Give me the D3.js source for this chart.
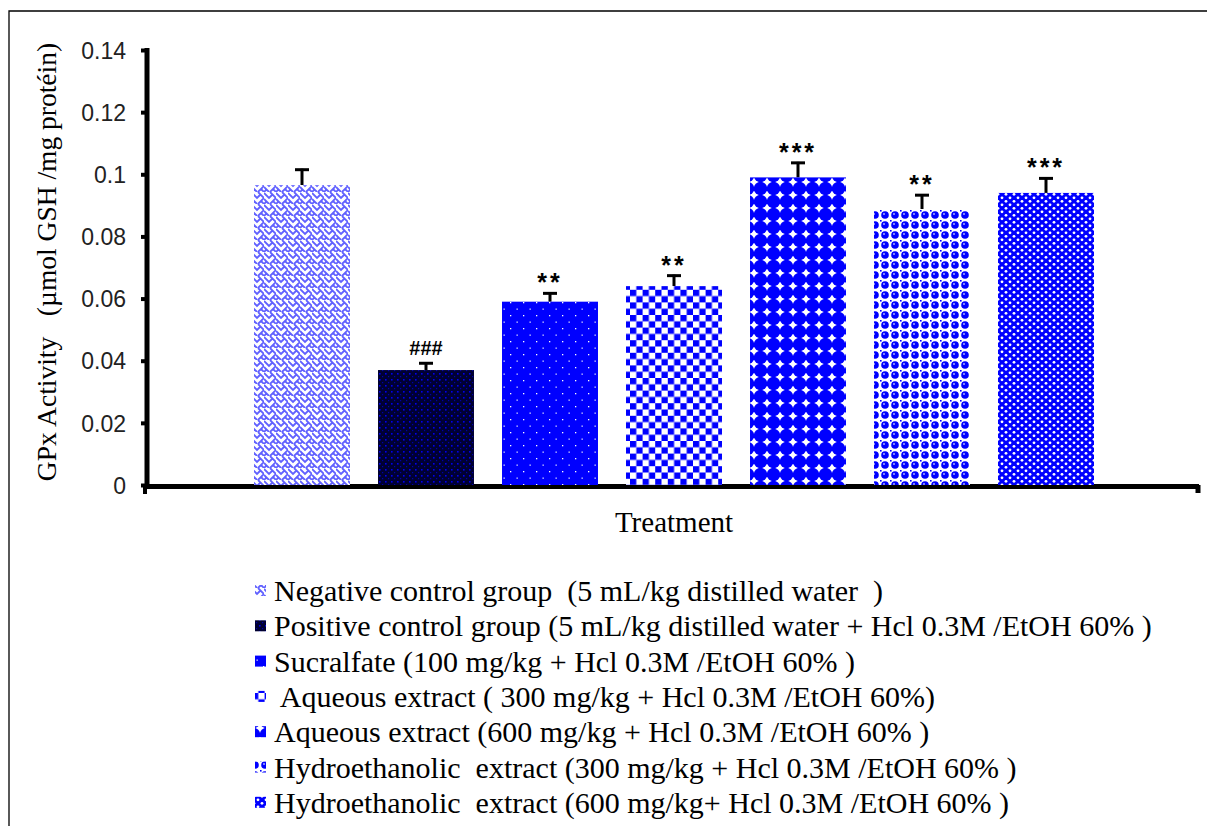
<!DOCTYPE html>
<html>
<head>
<meta charset="utf-8">
<script src="https://cdn.jsdelivr.net/npm/d3@7"></script>
<style>
  html, body { margin: 0; padding: 0; background: #fff; }
  svg { display: block; }
</style>
</head>
<body>
<svg id="chart" width="1207" height="826"></svg>
<script>
// ---- data ----
const categories = ["neg", "pos", "suc", "aq300", "aq600", "hy300", "hy600"];
const values = [0.0965, 0.0370, 0.0590, 0.0640, 0.0990, 0.0888, 0.0940];
const errors = [0.0053, 0.0025, 0.0030, 0.0037, 0.0050, 0.0048, 0.0050];
const significance = ["", "###", "**", "**", "***", "**", "***"];
const legendLabels = [
  "Negative control group  (5 mL/kg distilled water  )",
  "Positive control group (5 mL/kg distilled water + Hcl 0.3M /EtOH 60% )",
  "Sucralfate (100 mg/kg + Hcl 0.3M /EtOH 60% )",
  " Aqueous extract ( 300 mg/kg + Hcl 0.3M /EtOH 60%)",
  "Aqueous extract (600 mg/kg + Hcl 0.3M /EtOH 60% )",
  "Hydroethanolic  extract (300 mg/kg + Hcl 0.3M /EtOH 60% )",
  "Hydroethanolic  extract (600 mg/kg+ Hcl 0.3M /EtOH 60% )"
];
const yTicks = [0, 0.02, 0.04, 0.06, 0.08, 0.1, 0.12, 0.14];
const yTickLabels = ["0", "0.02", "0.04", "0.06", "0.08", "0.1", "0.12", "0.14"];
const yTitle = "GPx Activity   (µmol GSH /mg protéin)";
const xTitle = "Treatment";

const svg = d3.select("#chart");
const defs = svg.append("defs");
const BLUE = "#0000ff";
const SERIF = "'Liberation Serif', 'Times New Roman', serif";
const SANS = "'Liberation Sans', Arial, sans-serif";

// ---- patterns ----
function pat(id, w, h) {
  return defs.append("pattern").attr("id", id).attr("patternUnits", "userSpaceOnUse")
    .attr("width", w).attr("height", h);
}
// 1 negative: light weave
(function(){
  const p = pat("p0", 12, 12);
  p.append("rect").attr("width", 12).attr("height", 12).attr("fill", "#fff");
  p.append("path").attr("d", "M0,1 L5,6 L9,2 M6,0 L12,6 M0,7 L5,12 M6,12 L12,6 M9,9 L12,12 M2,10 L0,12")
    .attr("stroke", "#3a3aff").attr("stroke-width", 1.8).attr("fill", "none").attr("opacity", 0.8);
})();
// 2 positive: dark navy with blue dots
(function(){
  const p = pat("p1", 6, 6);
  p.append("rect").attr("width", 6).attr("height", 6).attr("fill", "#000033");
  p.append("rect").attr("x", 1).attr("y", 1).attr("width", 1.6).attr("height", 1.6).attr("fill", "#0000ee");
  p.append("rect").attr("x", 4).attr("y", 4).attr("width", 1.2).attr("height", 1.2).attr("fill", "#0000aa");
})();
// 3 sucralfate: blue with sparse white dots
(function(){
  const p = pat("p2", 13, 13);
  p.append("rect").attr("width", 13).attr("height", 13).attr("fill", BLUE);
  p.append("rect").attr("x", 3).attr("y", 3).attr("width", 1.3).attr("height", 1.3).attr("fill", "#fff");
  p.append("rect").attr("x", 9.5).attr("y", 9.5).attr("width", 1.3).attr("height", 1.3).attr("fill", "#ddf");
})();
// 4 aqueous 300: checkerboard
(function(){
  const p = pat("p3", 12.6, 12.6);
  p.append("rect").attr("width", 12.6).attr("height", 12.6).attr("fill", "#fff");
  p.append("rect").attr("x", 0).attr("y", 0).attr("width", 6.3).attr("height", 6.3).attr("fill", BLUE);
  p.append("rect").attr("x", 6.3).attr("y", 6.3).attr("width", 6.3).attr("height", 6.3).attr("fill", BLUE);
})();
// 5 aqueous 600: blue circles, white star gaps
(function(){
  const p = pat("p4", 13, 13);
  p.append("rect").attr("width", 13).attr("height", 13).attr("fill", "#fff");
  p.append("circle").attr("cx", 6.5).attr("cy", 6.5).attr("r", 6.7).attr("fill", BLUE);
})();
// 6 hydro 300: blue balls with white gaps
(function(){
  const p = pat("p5", 10, 10);
  p.append("rect").attr("width", 10).attr("height", 10).attr("fill", "#fff");
  p.append("circle").attr("cx", 5).attr("cy", 5).attr("r", 3.8).attr("fill", BLUE);
  p.append("circle").attr("cx", 4).attr("cy", 4).attr("r", 1.0).attr("fill", "#aaf");
  p.append("rect").attr("x", 0).attr("y", 0).attr("width", 1.6).attr("height", 1.6).attr("fill", BLUE);
})();
// 7 hydro 600: dense blue with white dots hex
(function(){
  const p = pat("p6", 8, 7);
  p.append("rect").attr("width", 8).attr("height", 7).attr("fill", BLUE);
  p.append("circle").attr("cx", 2).attr("cy", 1.8).attr("r", 1.4).attr("fill", "#fff");
  p.append("circle").attr("cx", 6).attr("cy", 5.3).attr("r", 1.4).attr("fill", "#fff");
})();

// ---- frame ----
svg.append("path").attr("d", "M9,830 L9,11 L1210,11").attr("fill", "none").attr("stroke", "#000").attr("stroke-width", 1.3);

// ---- scales ----
const y = d3.scaleLinear().domain([0, 0.14]).range([485, 50]);
const x = d3.scaleBand().domain(categories).range([240, 1108]).paddingInner(0.226).paddingOuter(0.113);

// ---- axes ----
const axisX = 147;
const yAxis = d3.axisLeft(y).tickValues(yTicks).tickSize(6)
  .tickFormat((d, i) => yTickLabels[i]);
const gy = svg.append("g").attr("transform", `translate(${axisX},0)`).call(yAxis);
gy.select(".domain").remove();
gy.selectAll(".tick line").attr("stroke", "#000").attr("stroke-width", 4);
gy.selectAll(".tick text").attr("x", -21).attr("dy", "0.36em").attr("font-family", SANS)
  .attr("font-size", 23).attr("fill", "#222");
svg.append("line").attr("x1", axisX).attr("x2", axisX).attr("y1", y(0.14) - 2).attr("y2", y(0) + 2)
  .attr("stroke", "#000").attr("stroke-width", 5);

// x axis
svg.append("line").attr("x1", axisX - 2).attr("x2", 1199).attr("y1", y(0) + 1.5).attr("y2", y(0) + 1.5)
  .attr("stroke", "#000").attr("stroke-width", 5);
svg.append("line").attr("x1", 1198).attr("x2", 1198).attr("y1", y(0)).attr("y2", y(0) + 8)
  .attr("stroke", "#000").attr("stroke-width", 5);
svg.append("line").attr("x1", axisX - 2).attr("x2", axisX - 2).attr("y1", y(0)).attr("y2", y(0) + 9)
  .attr("stroke", "#000").attr("stroke-width", 4);

// ---- bars ----
const g = svg.append("g");
categories.forEach((c, i) => {
  const x0 = x(c), bw = x.bandwidth(), cx = x0 + bw / 2;
  const yt = y(values[i] + errors[i]);
  g.append("line").attr("x1", cx).attr("x2", cx).attr("y1", y(values[i])).attr("y2", yt)
    .attr("stroke", "#000").attr("stroke-width", 3);
  g.append("line").attr("x1", cx - 7).attr("x2", cx + 7).attr("y1", yt + 1).attr("y2", yt + 1)
    .attr("stroke", "#000").attr("stroke-width", 3);
  g.append("rect").attr("x", x0).attr("y", y(values[i])).attr("width", bw)
    .attr("height", y(0) - y(values[i])).attr("fill", `url(#p${i})`);
  if (significance[i]) {
    const isHash = significance[i][0] === "#";
    g.append("text").attr("x", cx).attr("y", yt - (isHash ? 7 : 1)).attr("text-anchor", "middle")
      .attr("font-family", SANS)
      .attr("font-size", isHash ? 20 : 25).attr("font-weight", "bold")
      .attr("letter-spacing", isHash ? 0 : 3)
      .text(significance[i]);
  }
});

// ---- titles ----
svg.append("text").attr("transform", "translate(56,262) rotate(-90)").attr("text-anchor", "middle")
  .attr("font-family", SERIF).attr("font-size", 27.5)
  .style("white-space", "pre")
  .text(yTitle);
svg.append("text").attr("x", 674).attr("y", 532).attr("text-anchor", "middle")
  .attr("font-family", SERIF).attr("font-size", 29)
  .text(xTitle);

// ---- legend ----
const lg = svg.append("g");
legendLabels.forEach((t, i) => {
  const yy = 591 + i * 35.3;
  lg.append("rect").attr("x", 255).attr("y", yy - 6).attr("width", 11).attr("height", 11)
    .attr("fill", `url(#p${i})`);
  lg.append("text").attr("x", 274).attr("y", yy + 10)
    .attr("font-family", SERIF).attr("font-size", 30)
    .style("white-space", "pre").text(t);
});
</script>
</body>
</html>
